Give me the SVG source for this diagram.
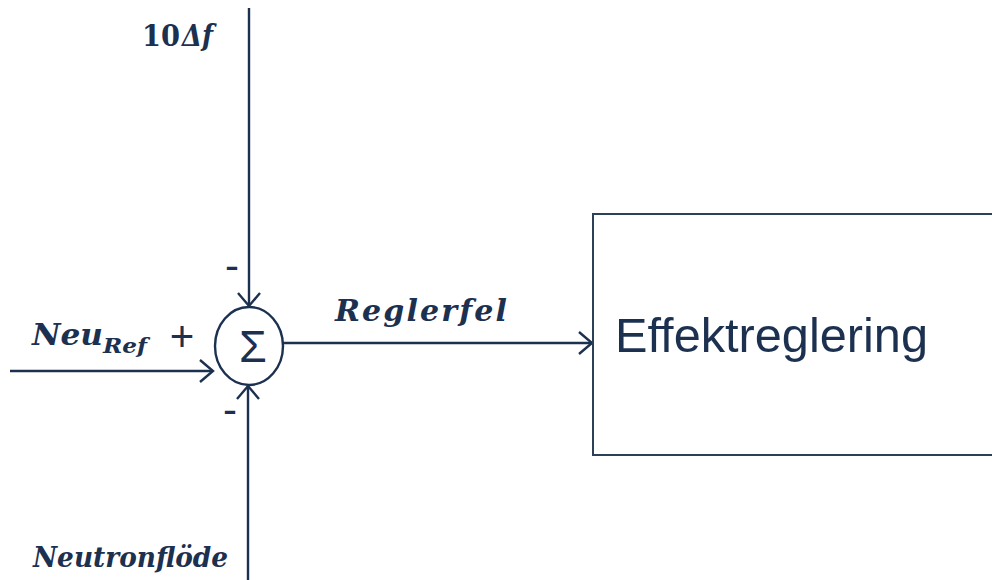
<svg xmlns="http://www.w3.org/2000/svg" width="992" height="580" viewBox="0 0 992 580">
<style>
.ln{stroke:#1c3050;stroke-width:2.4;fill:none}
.m{font-family:"DejaVu Serif","Liberation Serif",serif;font-style:italic;font-weight:bold;fill:#1c3050}
.s{font-family:"Liberation Sans","Open Sans",sans-serif;fill:#1c3050}
</style>
<defs>
<marker id="a" markerUnits="userSpaceOnUse" markerWidth="16" markerHeight="24" refX="14" refY="12" orient="auto" overflow="visible">
<path d="M1,1 L14,12 L1,23" fill="none" stroke="#1c3050" stroke-width="2.4"/>
</marker>
</defs>
<rect width="992" height="580" fill="#fff"/>
<g id="connectors">
<line class="ln" x1="249" y1="8" x2="249" y2="306" marker-end="url(#a)"/>
<line class="ln" x1="248" y1="580" x2="248" y2="386" marker-end="url(#a)"/>
<line class="ln" x1="10" y1="371" x2="213" y2="371" marker-end="url(#a)"/>
<line class="ln" x1="283" y1="343" x2="592" y2="343" marker-end="url(#a)"/>
</g>
<g id="sum">
<ellipse class="ln" cx="249" cy="346" rx="34" ry="39"/>
<text class="s" x="253" y="362" font-size="45" text-anchor="middle">Σ</text>
</g>
<g id="effektreglering">
<rect x="593" y="214" width="420" height="241" fill="none" stroke="#2e3f5a" stroke-width="2"/>
<text class="s" x="615" y="352" font-size="48" textLength="313" lengthAdjust="spacingAndGlyphs">Effektreglering</text>
</g>
<g id="labels">
<text class="m" x="142" y="46" font-size="30"><tspan font-style="normal" textLength="38" lengthAdjust="spacingAndGlyphs">10</tspan><tspan x="182" textLength="31" lengthAdjust="spacingAndGlyphs">Δf</tspan></text>
<text class="m" x="32" y="345" font-size="29"><tspan textLength="71" lengthAdjust="spacingAndGlyphs">Neu</tspan><tspan font-size="21" dy="8" textLength="44" lengthAdjust="spacingAndGlyphs">Ref</tspan></text>
<text class="s" x="182" y="351" font-size="42" text-anchor="middle">+</text>
<text class="s" x="232" y="280" font-size="42" text-anchor="middle">-</text>
<text class="s" x="230" y="424" font-size="42" text-anchor="middle">-</text>
<text class="m" x="335" y="321" font-size="30" textLength="172" lengthAdjust="spacing">Reglerfel</text>
<text class="m" x="33" y="567" font-size="28" font-weight="normal" textLength="195" lengthAdjust="spacingAndGlyphs">Neutronflöde</text>
</g>
</svg>
